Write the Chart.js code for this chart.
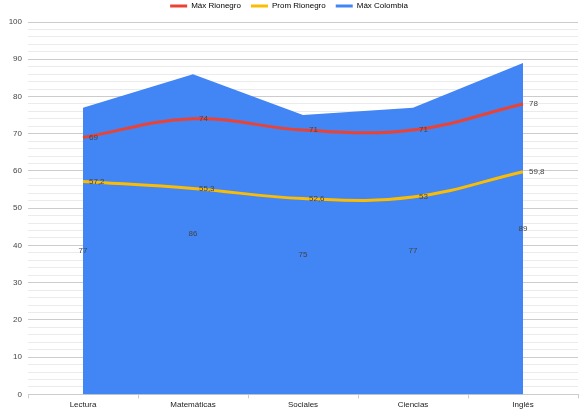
<!DOCTYPE html>
<html>
<head>
<meta charset="utf-8">
<script src="https://cdn.jsdelivr.net/npm/chart.js@4"></script>
<style>
html, body { margin: 0; padding: 0; background: #fff; }
#wrap { width: 580px; height: 414px; }
</style>
</head>
<body>
<div id="wrap"><canvas id="chart"></canvas></div>
<script>
const materias = ['Lectura', 'Matemáticas', 'Sociales', 'Ciencias', 'Inglés']
const maxRionegro = [69, 74, 71, 71, 78]
const promRionegro = [57.2, 55.3, 52.6, 53, 59.8]
const maxColombia = [77, 86, 75, 77, 89]

const rojo = '#ea4335'
const amarillo = '#fbbc04'
const azul = '#4285f4'
const fuente = '"Liberation Sans", Arial, sans-serif'

function fmt(v){
    return String(v).replace('.', ',')
}

// etiquetas de valores sobre las series
const etiquetas = {
    id: 'etiquetas',
    afterDatasetsDraw(chart){
        const ctx = chart.ctx
        const y = chart.scales.y
        ctx.save()
        ctx.font = '8px ' + fuente
        ctx.fillStyle = '#444'
        ctx.textBaseline = 'middle'
        chart.data.datasets.forEach((ds, i) => {
            const meta = chart.getDatasetMeta(i)
            meta.data.forEach((pt, j) => {
                const v = ds.data[j]
                if(ds.fill){
                    ctx.textAlign = 'center'
                    ctx.fillText(fmt(v), pt.x, y.getPixelForValue(v/2))
                }else{
                    ctx.textAlign = 'left'
                    ctx.fillText(fmt(v), pt.x + 6, pt.y)
                }
            })
        })
        ctx.restore()
    }
}

// ajuste del alto de la leyenda
const altoLeyenda = {
    id: 'altoLeyenda',
    beforeInit(chart){
        const fitOrig = chart.legend.fit
        chart.legend.fit = function(){
            fitOrig.bind(chart.legend)()
            this.height += 2
        }
    }
}

const ctx = document.getElementById('chart').getContext('2d')
const myChart = new Chart(ctx, {
    type: 'line',
    data: {
        labels: materias,
        datasets: [
            {
                label: 'Máx Rionegro',
                data: maxRionegro,
                borderColor: rojo,
                backgroundColor: rojo,
                borderWidth: 3,
                tension: 0.4,
                pointRadius: 0,
                fill: false
            },
            {
                label: 'Prom Rionegro',
                data: promRionegro,
                borderColor: amarillo,
                backgroundColor: amarillo,
                borderWidth: 3,
                tension: 0.4,
                pointRadius: 0,
                fill: false
            },
            {
                label: 'Máx Colombia',
                data: maxColombia,
                borderColor: azul,
                backgroundColor: azul,
                borderWidth: 0,
                tension: 0,
                pointRadius: 0,
                fill: 'origin'
            }
        ]
    },
    options: {
        responsive: true,
        maintainAspectRatio: false,
        animation: false,
        layout: { padding: { top: -8, right: 2, bottom: 2, left: 0 } },
        plugins: {
            tooltip: { enabled: false },
            legend: {
                position: 'top',
                labels: {
                    font: { family: fuente, size: 8 },
                    color: '#333',
                    usePointStyle: true,
                    pointStyleWidth: 17,
                    boxHeight: 8,
                    padding: 10,
                    generateLabels(chart){
                        return chart.data.datasets.map((ds, i) => ({
                            text: ds.label,
                            pointStyle: 'line',
                            strokeStyle: ds.borderColor,
                            fillStyle: ds.borderColor,
                            lineWidth: 3,
                            datasetIndex: i
                        }))
                    }
                }
            }
        },
        scales: {
            x: {
                offset: true,
                grid: {
                    offset: true,
                    drawOnChartArea: false,
                    drawTicks: true,
                    tickLength: 4,
                    color: '#ccc'
                },
                border: { color: '#ccc' },
                ticks: {
                    font: { family: fuente, size: 8 },
                    color: '#222',
                    padding: 2,
                    maxRotation: 0
                }
            },
            y: {
                min: 0,
                max: 100,
                afterFit(scale){ scale.width = 28 },
                grid: {
                    drawTicks: false,
                    color: c => (c.tick && c.tick.value % 10 === 0) ? '#cccccc' : '#ebebeb'
                },
                border: { display: false },
                ticks: {
                    stepSize: 2,
                    autoSkip: false,
                    padding: 6,
                    font: { family: fuente, size: 8 },
                    color: '#444',
                    callback: v => v % 10 === 0 ? v : ''
                }
            }
        }
    },
    plugins: [etiquetas, altoLeyenda]
})
</script>
</body>
</html>
